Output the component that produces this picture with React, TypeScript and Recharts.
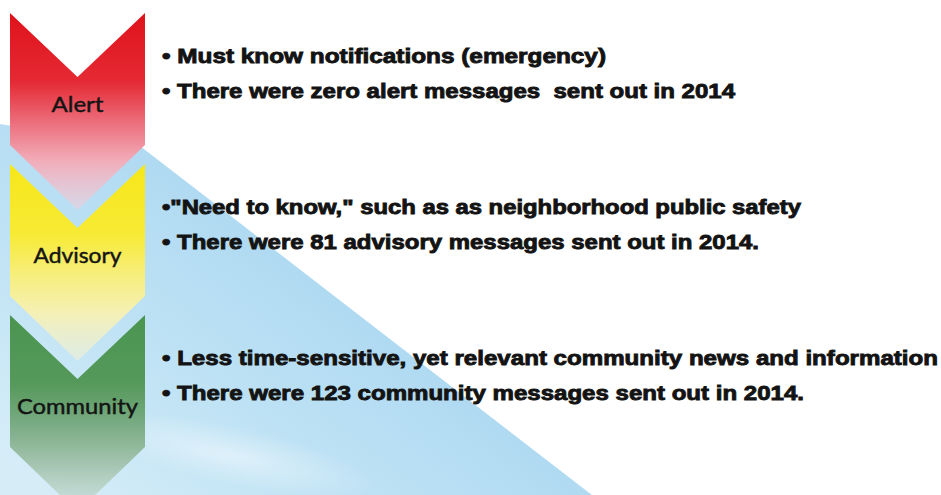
import React from 'react';
import { BarChart, Bar, XAxis, YAxis } from 'recharts';

// alert tiers and what was sent in 2014
const tiers = ['Alert', 'Advisory', 'Community'];
const messagesSent = [0, 81, 123];
const headlines = [
    '• Must know notifications (emergency)',
    '•"Need to know," such as as neighborhood public safety',
    '• Less time-sensitive, yet relevant community news and information',
];
const countLines = [
    '• There were zero alert messages  sent out in 2014',
    '• There were 81 advisory messages sent out in 2014.',
    '• There were 123 community messages sent out in 2014.',
];

const data = tiers.map((name, i) => ({
    name,
    messages: messagesSent[i],
    headline: headlines[i],
    countLine: countLines[i],
}));

// layout / look
const W = 941;
const H = 495;
const tierColors = [
    ['#e0121b', '#e42a34', '#ec6c7a', '#f2acb9', '#efd0dc'],
    ['#f6e71a', '#f7ea33', '#f7ee78', '#f5f0b4', '#f2f1d6'],
    ['#4a9550', '#56995b', '#78ab82', '#a3c3ae', '#c4d9cf'],
];
const labelWidths = [52, 88, 121];
const headlineWidths = [444, 639, 776];
const countWidths = [573, 597, 642];

const CHEV_W = 135;
const NOTCH = 64;
const SIDE = 132;
const TIP = 197;

const Chevron = (props: any) => {
    const { x, y, index } = props;
    const cx = x + CHEV_W / 2;
    const d = `M${x},${y} L${cx},${y + NOTCH} L${x + CHEV_W},${y} L${x + CHEV_W},${y + SIDE} L${cx},${y + TIP} L${x},${y + SIDE} Z`;
    const textStyle = {
        fontFamily: '"Liberation Sans", Arial, sans-serif',
        fontWeight: 700,
        fontSize: 21,
        whiteSpace: 'pre' as const,
    };
    return (
        <g>
            <path d={d} fill={`url(#tier-${index})`} />
            <text
                x={cx}
                y={y + 99}
                textAnchor="middle"
                fontFamily="Lato, sans-serif"
                fontSize={21}
                fill="#141414"
                stroke="#141414"
                strokeWidth={0.45}
                textLength={labelWidths[index]}
                lengthAdjust="spacingAndGlyphs"
            >
                {props.payload.name}
            </text>
            <text
                x={x + 152}
                y={y + 50}
                fill="#131313"
                stroke="#131313"
                strokeWidth={0.9}
                style={textStyle}
                textLength={headlineWidths[index]}
                lengthAdjust="spacingAndGlyphs"
            >
                {props.payload.headline}
            </text>
            <text
                x={x + 152}
                y={y + 85}
                fill="#131313"
                stroke="#131313"
                strokeWidth={0.9}
                style={textStyle}
                textLength={countWidths[index]}
                lengthAdjust="spacingAndGlyphs"
            >
                {props.payload.countLine}
            </text>
        </g>
    );
};

function Backdrop() {
    return (
        <svg width={W} height={H} style={{ position: 'absolute', left: 0, top: 0 }}>
            <defs>
                <linearGradient id="sky" gradientUnits="userSpaceOnUse" x1={365} y1={321} x2={165} y2={581}>
                    <stop offset="0" stopColor="#b0daf2" />
                    <stop offset="0.55" stopColor="#c2e4f5" />
                    <stop offset="1" stopColor="#d6edf8" />
                </linearGradient>
                <radialGradient id="haze" cx="0.5" cy="0.5" r="0.5">
                    <stop offset="0" stopColor="#ffffff" stopOpacity={0.45} />
                    <stop offset="1" stopColor="#ffffff" stopOpacity={0} />
                </radialGradient>
            </defs>
            <rect x={0} y={0} width={W} height={H} fill="#ffffff" />
            <path d="M0,124 L140,146 L592,495 L0,495 Z" fill="url(#sky)" />
            <ellipse cx={230} cy={455} rx={150} ry={30} fill="url(#haze)" transform="rotate(12 230 455)" />
            <ellipse cx={660} cy={480} rx={90} ry={25} fill="url(#haze)" />
        </svg>
    );
}

export default function App() {
    return (
        <div style={{ position: 'absolute', left: 0, top: 0, width: W, height: H, background: '#fff' }}>
            <Backdrop />
            <div style={{ position: 'absolute', left: 0, top: 0 }}>
                <BarChart
                    width={W}
                    height={H}
                    data={data}
                    layout="vertical"
                    margin={{ top: 13, right: 0, bottom: 29, left: 10 }}
                    barCategoryGap={0}
                >
                    <defs>
                        {tierColors.map((c, i) => (
                            <linearGradient key={`tier-${i}`} id={`tier-${i}`} x1="0" y1="0" x2="0" y2="1">
                                <stop offset="0" stopColor={c[0]} />
                                <stop offset="0.35" stopColor={c[1]} />
                                <stop offset="0.55" stopColor={c[2]} />
                                <stop offset="0.75" stopColor={c[3]} />
                                <stop offset="1" stopColor={c[4]} stopOpacity={0.55} />
                            </linearGradient>
                        ))}
                    </defs>
                    <XAxis type="number" hide domain={[0, 'dataMax']} />
                    <YAxis type="category" dataKey="name" hide />
                    <Bar dataKey="messages" isAnimationActive={false} shape={Chevron} />
                </BarChart>
            </div>
        </div>
    );
}
